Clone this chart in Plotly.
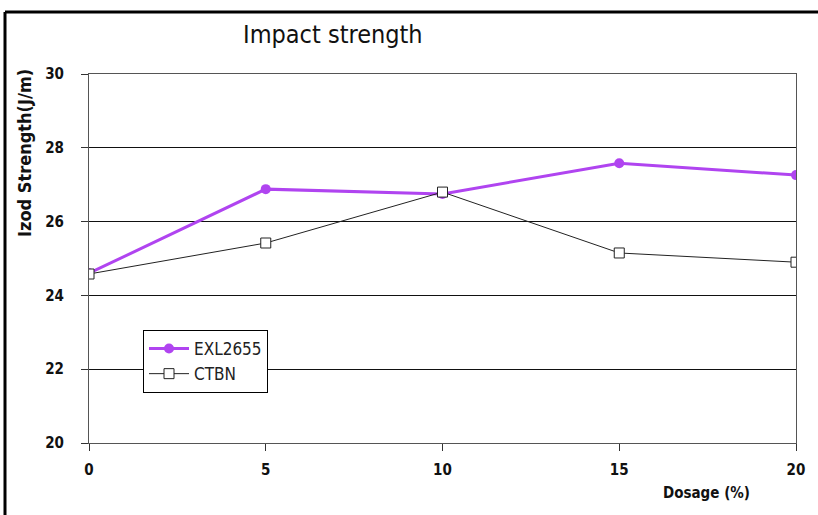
import plotly.graph_objects as go

dosage = [0, 5, 10, 15, 20]
exl2655 = [24.6, 26.88, 26.75, 27.58, 27.26]
ctbn = [24.58, 25.42, 26.8, 25.15, 24.9]
x_ticks = [0, 5, 10, 15, 20]
y_ticks = [20, 22, 24, 26, 28, 30]

W, H = 818, 515
L, R, T, B = 89, 22, 74, 72
PW, PH = W - L - R, H - T - B

FAM = "DejaVu Sans Condensed, DejaVu Sans"

fig = go.Figure()
fig.add_trace(go.Scatter(
    x=dosage, y=exl2655, name="EXL2655", mode="lines+markers",
    line=dict(color="#b044f0", width=3),
    marker=dict(symbol="circle", size=10, color="#b044f0"),
))
fig.add_trace(go.Scatter(
    x=dosage, y=ctbn, name="CTBN", mode="lines+markers",
    line=dict(color="#222222", width=1),
    marker=dict(symbol="square", size=10, color="white",
                line=dict(color="#222222", width=1)),
))

tickfont = dict(family=FAM, size=15, color="#111", weight="bold")

fig.update_layout(
    width=W, height=H,
    margin=dict(l=L, r=R, t=T, b=B),
    paper_bgcolor="white", plot_bgcolor="white",
    showlegend=True,
    legend=dict(x=(143 - L) / PW, y=1 - (330 - T) / PH,
                xanchor="left", yanchor="top",
                bgcolor="white", bordercolor="black", borderwidth=1,
                font=dict(family=FAM, size=17, color="#222"),
                itemwidth=40, tracegroupgap=6),
    xaxis=dict(range=[0, 20], tickvals=x_ticks, showgrid=False, zeroline=False,
               showline=True, linecolor="#555", linewidth=1, mirror=True,
               ticks="outside", ticklen=7, tickcolor="#333",
               ticklabelstandoff=6, tickfont=tickfont),
    yaxis=dict(range=[20, 30], tickvals=y_ticks, showgrid=True, gridcolor="#111", gridwidth=1,
               zeroline=False, showline=True, linecolor="#555", linewidth=1, mirror=True,
               ticks="outside", ticklen=7, tickcolor="#333",
               ticklabelstandoff=14, tickfont=tickfont),
)

fig.add_annotation(text="Impact strength", xref="paper", yref="paper",
                   x=(333 - L) / PW, y=1 + (T - 35) / PH,
                   showarrow=False, xanchor="center", yanchor="middle",
                   font=dict(family=FAM, size=25, color="#111"))
fig.add_annotation(text="Dosage (%)", xref="paper", yref="paper",
                   x=(706 - L) / PW, y=-(493 - (H - B)) / PH,
                   showarrow=False, xanchor="center", yanchor="middle",
                   font=dict(family=FAM, size=15, color="#111", weight="bold"))
fig.add_annotation(text="Izod Strength(J/m)", xref="paper", yref="paper",
                   x=-(L - 24) / PW, y=1 - (153 - T) / PH,
                   showarrow=False, textangle=-90, xanchor="center", yanchor="middle",
                   font=dict(family=FAM, size=18, color="#111", weight="bold"))

# outer frame lines (left and top)
fig.add_shape(type="line", xref="paper", yref="paper",
              x0=-(L - 5) / PW, x1=-(L - 5) / PW,
              y0=1 + (T - 12) / PH, y1=-B / PH,
              line=dict(color="black", width=3))
fig.add_shape(type="line", xref="paper", yref="paper",
              x0=-(L - 5) / PW, x1=1 + R / PW,
              y0=1 + (T - 12) / PH, y1=1 + (T - 12) / PH,
              line=dict(color="black", width=3))

fig.write_html("out.html", config={"displayModeBar": False},
               post_script="document.body.style.margin='0';document.body.style.overflow='hidden';")
